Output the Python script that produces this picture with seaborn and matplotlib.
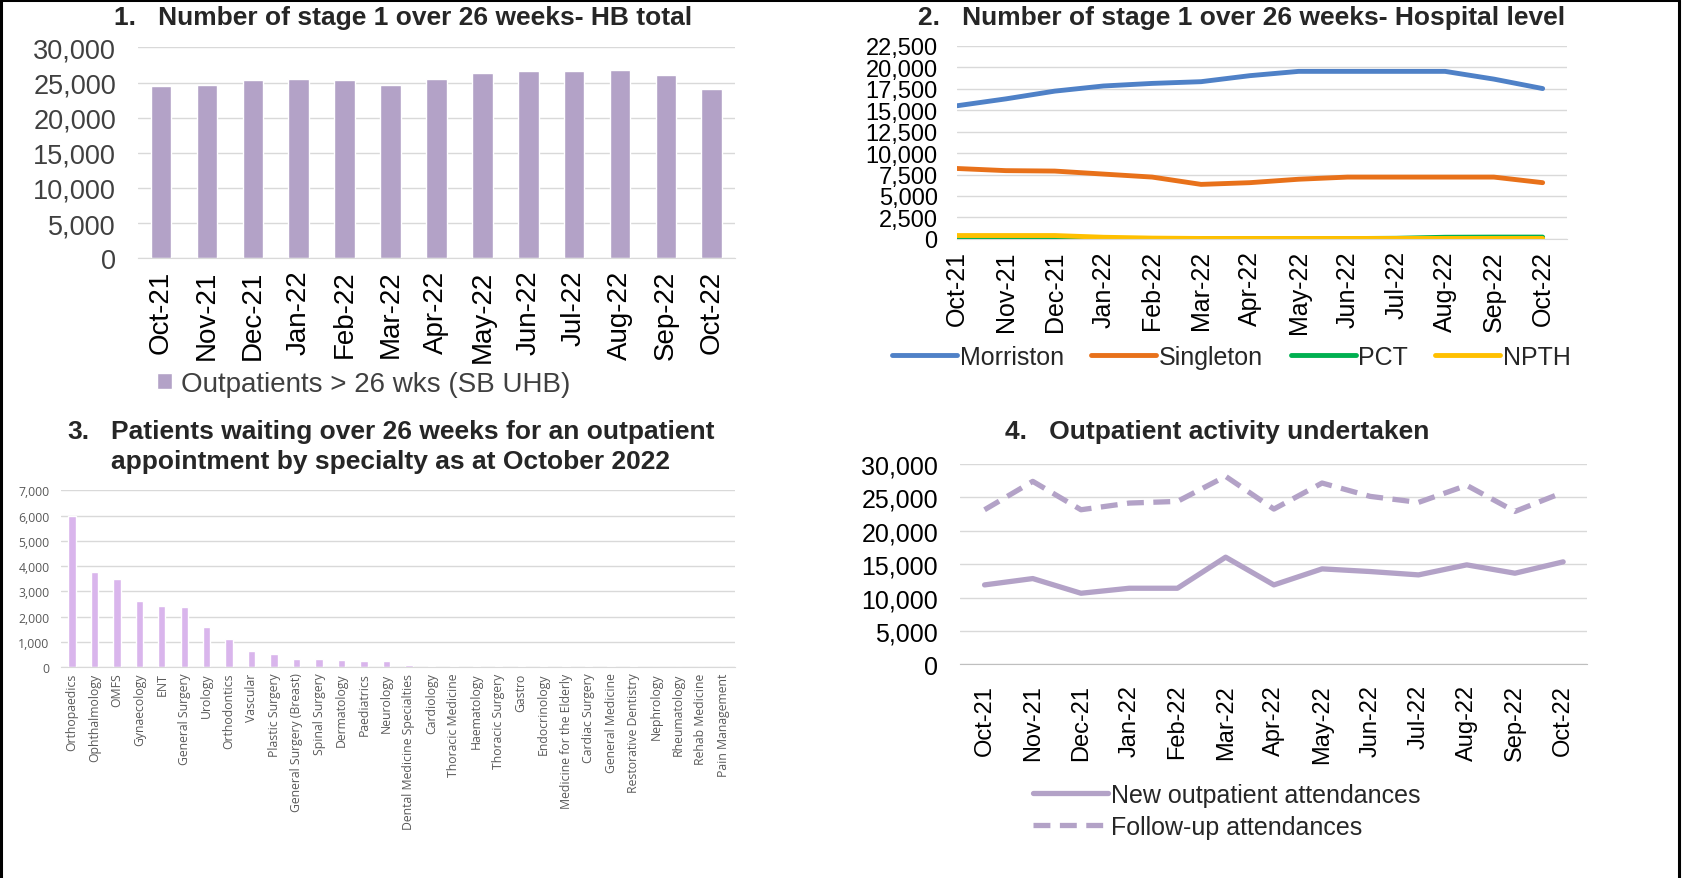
import numpy as np
import pandas as pd
import matplotlib
matplotlib.use("Agg")
import matplotlib.pyplot as plt
import seaborn as sns
from matplotlib.lines import Line2D

sns.set_style("white")
plt.rcParams["font.family"] = ["Liberation Sans", "DejaVu Sans"]

NARROW = ["Liberation Sans Narrow", "DejaVu Sans Condensed", "Liberation Sans"]
TITLE_FONT = ["Liberation Sans Narrow", "Liberation Sans"]

# ---- data ----
months = ["Oct-21", "Nov-21", "Dec-21", "Jan-22", "Feb-22", "Mar-22", "Apr-22",
          "May-22", "Jun-22", "Jul-22", "Aug-22", "Sep-22", "Oct-22"]

hb_total = [24500, 24650, 25350, 25500, 25350, 24650, 25500,
            26400, 26600, 26600, 26800, 26000, 24050]

morriston = [15500, 16300, 17200, 17800, 18100, 18300, 19000,
             19500, 19500, 19500, 19500, 18600, 17500]
singleton = [8200, 7950, 7900, 7550, 7200, 6350, 6550,
             6950, 7200, 7200, 7200, 7200, 6550]
pct = [0, 0, 0, 50, 50, 50, 50, 50, 50, 80, 200, 220, 220]
npth = [400, 400, 400, 200, 100, 60, 60, 60, 60, 60, 60, 60, 60]

specialties = ["Orthopaedics", "Ophthalmology", "OMFS", "Gynaecology", "ENT",
               "General Surgery", "Urology", "Orthodontics", "Vascular",
               "Plastic Surgery", "General Surgery (Breast)", "Spinal Surgery",
               "Dermatology", "Paediatrics", "Neurology",
               "Dental Medicine Specialties", "Cardiology", "Thoracic Medicine",
               "Haematology", "Thoracic Surgery", "Gastro", "Endocrinology",
               "Medicine for the Elderly", "Cardiac Surgery", "General Medicine",
               "Restorative Dentistry", "Nephrology", "Rheumatology",
               "Rehab Medicine", "Pain Management"]
spec_waiting = [6000, 3750, 3500, 2630, 2420, 2380, 1600, 1130, 620, 530,
                320, 320, 270, 230, 230, 100, 50, 45, 45, 45, 45, 45, 45, 45,
                45, 35, 5, 5, 2, 1]

new_attend = [11900, 12850, 10650, 11400, 11400, 16050, 11900,
              14300, 13900, 13400, 14900, 13650, 15350]
followup_attend = [23150, 27400, 23150, 24150, 24400, 28150, 23250,
                   27150, 25150, 24250, 26800, 22900, 25750]

PURPLE = "#B3A2C7"
LILAC = "#D9B5EC"
GRID = "#D9D9D9"
TICK = "#404040"

fig = plt.figure(figsize=(16.85, 8.79), dpi=100)


def style_axes(ax):
    for s in ["top", "right", "left"]:
        ax.spines[s].set_visible(False)
    ax.spines["bottom"].set_color(GRID)
    ax.grid(axis="y", color=GRID, linewidth=1)
    ax.set_axisbelow(True)
    ax.set_xlabel("")
    ax.set_ylabel("")
    ax.tick_params(length=0)


def thousands(ax):
    ax.yaxis.set_major_formatter(matplotlib.ticker.FuncFormatter(lambda v, p: f"{int(v):,}"))


def title(x, y, s, ha="center"):
    fig.text(x, y, s, ha=ha, va="center", fontsize=19, fontweight="bold", family=TITLE_FONT)


# ---- 1. HB total ----
ax1 = fig.add_axes([0.082, 0.705, 0.354, 0.240])
df1 = pd.DataFrame({"month": months, "value": hb_total})
sns.barplot(data=df1, x="month", y="value", color=PURPLE, width=0.45,
            saturation=1, ax=ax1, label="Outpatients > 26 wks (SB UHB)")
style_axes(ax1)
ax1.set_ylim(0, 30000)
ax1.set_yticks(range(0, 30001, 5000))
thousands(ax1)
ax1.tick_params(axis="y", labelsize=19.5, labelcolor=TICK, pad=16)
ax1.tick_params(axis="x", labelsize=20, labelcolor="black", rotation=90, pad=8)
ax1.legend(loc="upper left", bbox_to_anchor=(-0.01, -0.415), frameon=False,
           fontsize=20, handlelength=0.55, handleheight=0.55, handletextpad=0.3,
           labelcolor=TICK)
title(0.239, 0.980, "1.   Number of stage 1 over 26 weeks- HB total")

# ---- 2. Hospital level ----
ax2 = fig.add_axes([0.568, 0.727, 0.362, 0.220])
df2 = pd.DataFrame({"month": months * 4,
                    "value": morriston + singleton + pct + npth,
                    "site": ["Morriston"] * 13 + ["Singleton"] * 13 + ["PCT"] * 13 + ["NPTH"] * 13})
site_colors = {"Morriston": "#4F81C7", "Singleton": "#E8711A", "PCT": "#00B050", "NPTH": "#FFC000"}
sns.lineplot(data=df2, x="month", y="value", hue="site", palette=site_colors,
             linewidth=3.5, sort=False, ax=ax2)
style_axes(ax2)
ax2.set_ylim(0, 22500)
ax2.set_yticks(range(0, 22501, 2500))
ax2.set_xlim(0, 12.5)
thousands(ax2)
for t in ax2.get_yticklabels():
    t.set_family(NARROW)
ax2.tick_params(axis="y", labelsize=17, labelcolor="black", pad=14)
ax2.tick_params(axis="x", labelsize=18, labelcolor="black", rotation=90, pad=8)
ax2.legend(loc="upper center", bbox_to_anchor=(0.45, -0.43), frameon=False, ncol=4,
           prop={"family": NARROW, "size": 18}, handlelength=2.6, handletextpad=0.1,
           columnspacing=1.1)
title(0.737, 0.980, "2.   Number of stage 1 over 26 weeks- Hospital level")

# ---- 3. By specialty ----
ax3 = fig.add_axes([0.036, 0.240, 0.400, 0.201])
df3 = pd.DataFrame({"specialty": specialties, "waiting": spec_waiting})
sns.barplot(data=df3, x="specialty", y="waiting", color=LILAC, width=0.33,
            saturation=1, ax=ax3)
style_axes(ax3)
ax3.set_ylim(0, 7000)
ax3.set_yticks(range(0, 7001, 1000))
thousands(ax3)
ax3.tick_params(axis="y", labelsize=8.8, labelcolor="#595959", pad=8)
ax3.tick_params(axis="x", labelsize=8.8, labelcolor="#595959", rotation=90, pad=4)
for t in ax3.get_xticklabels() + ax3.get_yticklabels():
    t.set_family(["Open Sans", "DejaVu Sans"])
title(0.040, 0.509, "3.", ha="left")
title(0.066, 0.509, "Patients waiting over 26 weeks for an outpatient", ha="left")
title(0.066, 0.474, "appointment by specialty as at October 2022", ha="left")

# ---- 4. Outpatient activity ----
ax4 = fig.add_axes([0.570, 0.243, 0.372, 0.228])
df4 = pd.DataFrame({"month": months * 2,
                    "value": new_attend + followup_attend,
                    "type": ["New outpatient attendances"] * 13 + ["Follow-up attendances"] * 13})
sns.lineplot(data=df4, x="month", y="value", hue="type", style="type",
             palette=[PURPLE, PURPLE], dashes=[(None, None), (3.2, 1.8)],
             linewidth=3.8, sort=False, ax=ax4)
style_axes(ax4)
ax4.set_ylim(0, 30000)
ax4.set_yticks(range(0, 30001, 5000))
ax4.set_xlim(-0.5, 12.5)
thousands(ax4)
for t in ax4.get_yticklabels():
    t.set_family(NARROW)
ax4.set_xticks(np.arange(-0.5, 13, 1), minor=True)
ax4.tick_params(axis="x", which="minor", length=7, color="#BFBFBF", width=1)
ax4.spines["bottom"].set_color("#BFBFBF")
ax4.tick_params(axis="y", labelsize=18, labelcolor="black", pad=16)
ax4.tick_params(axis="x", which="major", labelsize=17, labelcolor="black", rotation=90, pad=14)
ax4.legend(loc="upper left", bbox_to_anchor=(0.08, -0.48), frameon=False,
           prop={"family": NARROW, "size": 18}, handlelength=3.0, handletextpad=0.1,
           labelspacing=0.3)
title(0.7225, 0.508, "4.   Outpatient activity undertaken")

# frame around the figure (left, top, right)
fig.add_artist(Line2D([0.0008, 0.0008, 0.9965, 0.9965], [0.0, 0.999, 0.999, 0.0],
                      transform=fig.transFigure, color="black", linewidth=2.2))

fig.savefig("out.png", dpi=100)
